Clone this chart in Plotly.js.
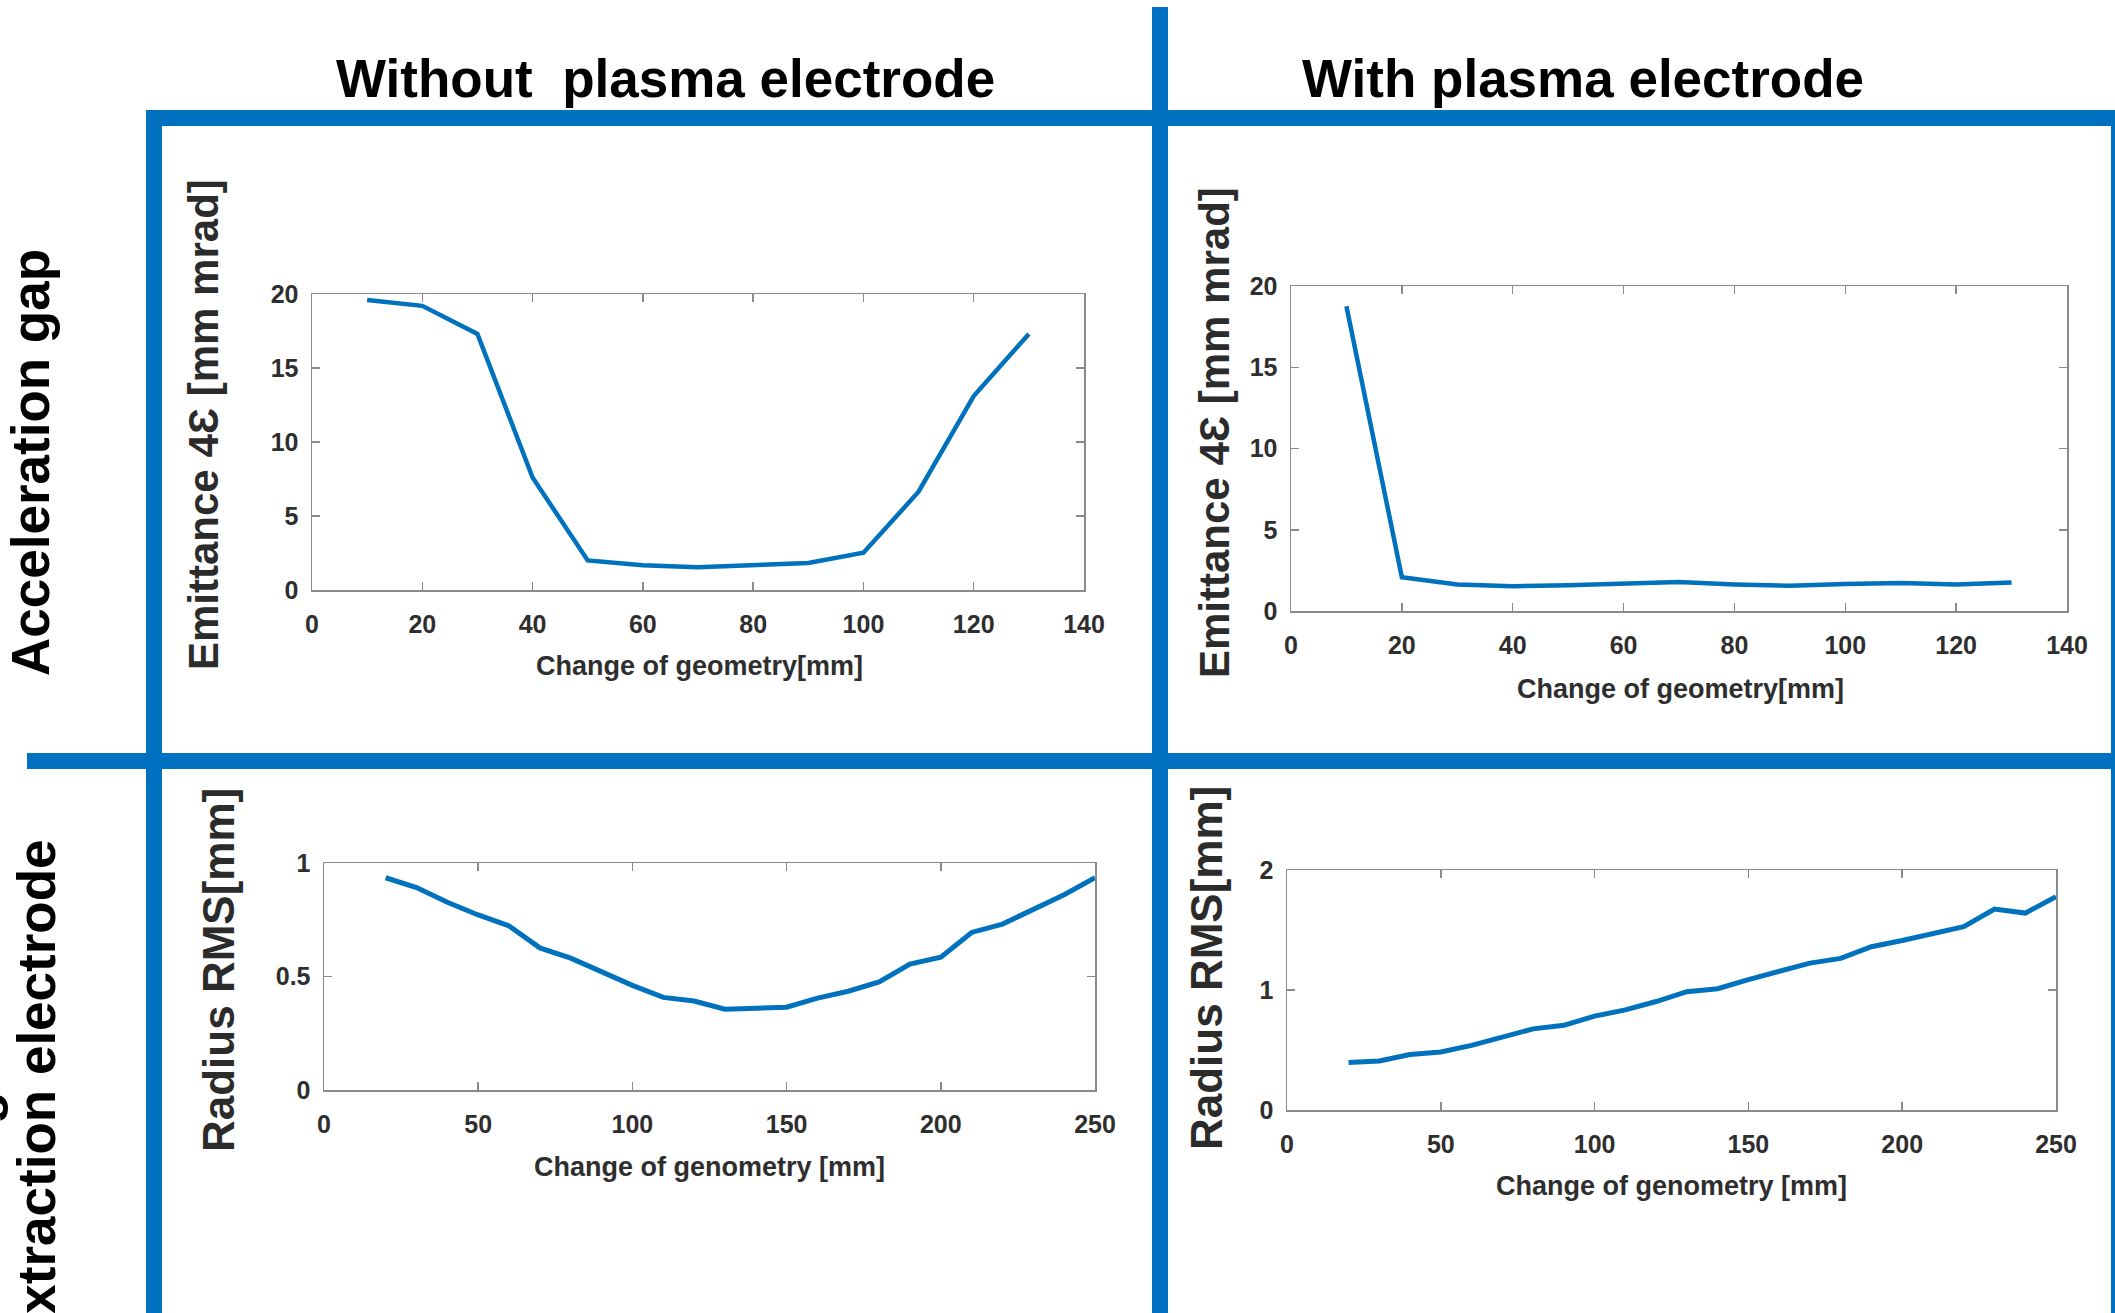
<!DOCTYPE html>
<html>
<head>
<meta charset="utf-8">
<script src="https://cdn.plot.ly/plotly-3.0.1.min.js"></script>
<style>html,body{margin:0;padding:0;background:#fff;}#chart{width:2115px;height:1313px;}</style>
</head>
<body>
<div id="chart"></div>
<script>
// ---- data ----
const emitX = [10, 20, 30, 40, 50, 60, 70, 80, 90, 100, 110, 120, 130];
const emitWithoutPE = [19.6, 19.2, 17.3, 7.6, 2.0, 1.67, 1.54, 1.70, 1.83, 2.52, 6.64, 13.1, 17.3];
const emitWithPE = [18.75, 2.08, 1.63, 1.52, 1.58, 1.66, 1.78, 1.63, 1.55, 1.66, 1.72, 1.63, 1.75];
const radX = [20, 30, 40, 50, 60, 70, 80, 90, 100, 110, 120, 130, 140, 150, 160, 170, 180, 190, 200, 210, 220, 230, 240, 250];
const radWithoutPE = [0.935, 0.892, 0.827, 0.771, 0.723, 0.626, 0.581, 0.521, 0.461, 0.408, 0.392, 0.356, 0.360, 0.365, 0.405, 0.435, 0.476, 0.555, 0.585, 0.694, 0.731, 0.795, 0.860, 0.935];
const radWithPE = [0.396, 0.408, 0.463, 0.484, 0.539, 0.606, 0.676, 0.706, 0.782, 0.834, 0.904, 0.986, 1.011, 1.087, 1.154, 1.224, 1.263, 1.361, 1.412, 1.467, 1.528, 1.674, 1.641, 1.778];

const colTitles = ["Without\u00a0 plasma electrode", "With plasma electrode"];
const rowTitles = ["Acceleration gap", "Extraction electrode"];
const emitYTitle = "Emittance 4\u0190 [mm mrad]";
const emitXTitle = "Change of geometry[mm]";
const radYTitle = "Radius RMS[mm]";
const radXTitle = "Change of genometry [mm]";

// ---- layout helpers ----
const W = 2115, H = 1313;
const px = v => v / W;
const py = v => 1 - v / H;
const BLUE = '#0070C0';
const LINE = '#0072BD';
const AXC = '#8a8a8a';
const ARIAL = "'Liberation Sans', Arial, sans-serif";
const tickFont = {family: ARIAL, size: 25, color: '#2e2e2e', weight: 'bold'};

function xax(dom, range, dtick) {
  return {
    domain: [px(dom[0]), px(dom[1])], range: range, dtick: dtick, tick0: 0,
    showline: true, linecolor: AXC, linewidth: 1.5, mirror: 'ticks',
    ticks: 'inside', ticklen: 8, tickwidth: 1.5, tickcolor: AXC,
    showgrid: false, zeroline: false, fixedrange: true,
    ticklabelstandoff: 11,
    tickfont: tickFont
  };
}
function yax(dom, range, dtick, anchor) {
  return {
    domain: [py(dom[1]), py(dom[0])], range: range, dtick: dtick, tick0: 0,
    anchor: anchor,
    showline: true, linecolor: AXC, linewidth: 1.5, mirror: 'ticks',
    ticks: 'inside', ticklen: 8, tickwidth: 1.5, tickcolor: AXC,
    showgrid: false, zeroline: false, fixedrange: true,
    ticklabelstandoff: 7,
    tickfont: tickFont
  };
}

const traces = [
  {x: emitX, y: emitWithoutPE, xaxis: 'x', yaxis: 'y', type: 'scatter', mode: 'lines', line: {color: LINE, width: 4.5}},
  {x: emitX, y: emitWithPE, xaxis: 'x2', yaxis: 'y2', type: 'scatter', mode: 'lines', line: {color: LINE, width: 4.5}},
  {x: radX, y: radWithoutPE, xaxis: 'x3', yaxis: 'y3', type: 'scatter', mode: 'lines', line: {color: LINE, width: 5}},
  {x: radX, y: radWithPE, xaxis: 'x4', yaxis: 'y4', type: 'scatter', mode: 'lines', line: {color: LINE, width: 5}}
];

function rect(x0, y0, x1, y1) {
  return {type: 'rect', xref: 'paper', yref: 'paper', x0: px(x0), x1: px(x1), y0: py(y1), y1: py(y0),
          fillcolor: BLUE, line: {width: 0}, layer: 'above'};
}

function ann(text, x, y, font, angle) {
  return {text: text, xref: 'paper', yref: 'paper', x: px(x), y: py(y), xanchor: 'center', yanchor: 'middle',
          showarrow: false, textangle: angle || 0, font: font};
}
const bigFont = {family: ARIAL, size: 53, color: '#000', weight: 'bold'};
const yTitleFont = {family: ARIAL, size: 42, color: '#2b2b2b', weight: 'bold'};
const radTitleFont = {family: ARIAL, size: 44, color: '#2b2b2b', weight: 'bold'};
const xTitleFont = {family: ARIAL, size: 27, color: '#2e2e2e', weight: 'bold'};

const layout = {
  width: W, height: H,
  margin: {l: 0, r: 0, t: 0, b: 0},
  paper_bgcolor: '#fff', plot_bgcolor: '#fff',
  showlegend: false,
  xaxis: xax([312, 1084], [0, 140], 20),
  yaxis: yax([294, 590], [0, 20], 5, 'x'),
  xaxis2: Object.assign(xax([1291, 2067], [0, 140], 20), {anchor: 'y2'}),
  yaxis2: yax([286, 611], [0, 20], 5, 'x2'),
  xaxis3: Object.assign(xax([324, 1095], [0, 250], 50), {anchor: 'y3'}),
  yaxis3: yax([863, 1090], [0, 1], 0.5, 'x3'),
  xaxis4: Object.assign(xax([1287, 2056], [0, 250], 50), {anchor: 'y4'}),
  yaxis4: yax([870, 1110], [0, 2], 1, 'x4'),
  shapes: [
    rect(146, 110, 2115, 126),
    rect(146, 110, 162, 1313),
    rect(1152, 7, 1168, 1313),
    rect(27, 753, 2115, 769),
    rect(2111, 110, 2115, 1313)
  ],
  annotations: [
    ann(colTitles[0], 665, 78, bigFont),
    ann(colTitles[1], 1583, 78, bigFont),
    ann(rowTitles[0], 30, 463, bigFont, -90),
    ann(rowTitles[1], 36, 1094, bigFont, -90),
    ann("g", -22, 1108, bigFont, -90),
    ann(emitYTitle, 203, 425, yTitleFont, -90),
    ann(emitXTitle, 699, 666, xTitleFont),
    ann(emitYTitle, 1215, 433, yTitleFont, -90),
    ann(emitXTitle, 1680, 689, xTitleFont),
    ann(radYTitle, 218, 970, radTitleFont, -90),
    ann(radXTitle, 709, 1167, xTitleFont),
    ann(radYTitle, 1206, 968, radTitleFont, -90),
    ann(radXTitle, 1671, 1186, xTitleFont)
  ]
};

Plotly.newPlot('chart', traces, layout, {staticPlot: true, displayModeBar: false});
</script>
</body>
</html>
